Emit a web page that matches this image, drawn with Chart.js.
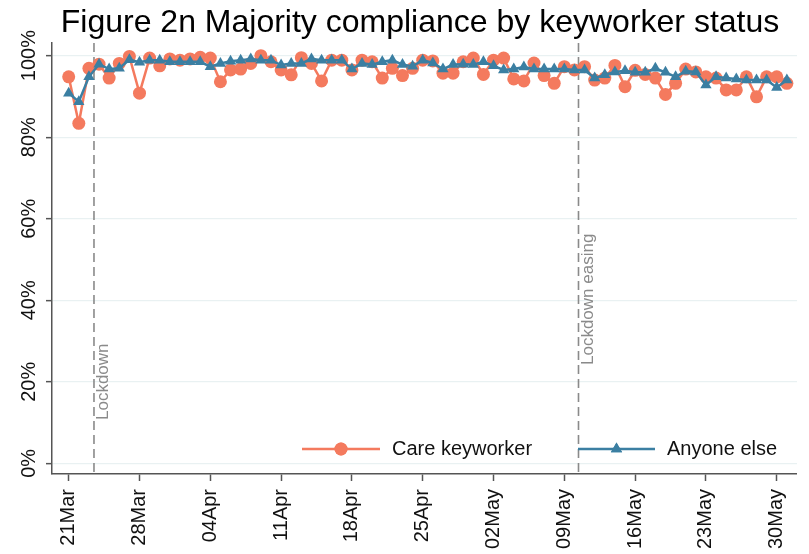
<!DOCTYPE html>
<html>
<head>
<meta charset="utf-8">
<script src="https://cdn.jsdelivr.net/npm/chart.js@4.4.1/dist/chart.umd.min.js"></script>
<style>
  html, body { margin: 0; padding: 0; background: #fff; }
</style>
</head>
<body>
<canvas id="chart" width="809" height="554"></canvas>
<script>
// day index 0 = 21 Mar 2020, last point = 31 May 2020
const days = Array.from({ length: 72 }, (_, i) => i);
const xTickDays = [0, 7, 14, 21, 28, 35, 42, 49, 56, 63, 70];
const xTickLabels = ["21Mar", "28Mar", "04Apr", "11Apr", "18Apr", "25Apr", "02May", "09May", "16May", "23May", "30May"];
const yTicks = [0, 20, 40, 60, 80, 100];

const careKeyworker = [
  94.8, 83.4, 96.9, 97.9, 94.5, 98.1, 99.8, 90.8, 99.4, 97.5,
  99.2, 98.9, 99.2, 99.6, 99.4, 93.6, 96.5, 96.7, 98.1, 100.0,
  98.5, 96.5, 95.3, 99.5, 98.1, 93.8, 98.9, 98.9, 96.5, 98.9,
  98.5, 94.5, 96.9, 95.1, 96.9, 98.9, 98.7, 95.7, 95.7, 98.5,
  99.4, 95.4, 98.9, 99.4, 94.3, 93.8, 98.2, 95.1, 93.2, 97.3,
  96.5, 97.3, 94.0, 94.5, 97.6, 92.4, 96.4, 95.4, 94.5, 90.5,
  93.2, 96.7, 96.0, 94.8, 94.5, 91.6, 91.6, 94.8, 89.9, 94.8,
  94.8, 93.2
];
const anyoneElse = [
  90.8, 88.7, 94.8, 97.9, 96.7, 96.9, 99.0, 98.4, 98.9, 98.9,
  98.5, 98.5, 98.5, 98.5, 97.3, 98.1, 98.6, 98.9, 99.2, 98.9,
  98.9, 97.7, 98.1, 98.1, 99.2, 98.9, 98.9, 98.9, 96.7, 98.1,
  97.8, 98.5, 98.9, 97.8, 97.4, 98.9, 98.2, 96.7, 97.8, 97.9,
  97.8, 98.5, 97.5, 96.5, 96.7, 97.2, 96.7, 96.7, 96.7, 96.7,
  96.5, 96.5, 94.5, 95.3, 96.0, 96.3, 95.9, 95.9, 96.9, 95.9,
  94.8, 96.2, 96.0, 92.8, 94.8, 94.5, 94.3, 94.0, 94.0, 94.0,
  92.2, 94.0
];

const eventDays = [2.5, 50.4];
const eventLabels = ["Lockdown", "Lockdown easing"];

const COLORS = {
  care: "#f47a5e",
  other: "#3b7fa2",
  axis: "#555555",
  grid: "#e9f1f2",
  text: "#111111",
  event: "#8a8a8a"
};
const FONT = "'Liberation Sans', Arial, sans-serif";

const overlay = {
  id: "overlay",
  beforeDatasetsDraw(chart) {
    const { ctx, chartArea, scales } = chart;
    ctx.save();
    // event lines
    eventDays.forEach(d => {
      const x = scales.x.getPixelForValue(d);
      ctx.strokeStyle = COLORS.event;
      ctx.lineWidth = 1.6;
      ctx.setLineDash([9, 5]);
      ctx.beginPath();
      ctx.moveTo(x, chartArea.top);
      ctx.lineTo(x, chartArea.bottom);
      ctx.stroke();
    });
    ctx.setLineDash([]);
    ctx.fillStyle = COLORS.event;
    ctx.font = "17px " + FONT;
    ctx.textAlign = "left";
    ctx.textBaseline = "top";
    const labelBottoms = [420, 365];
    eventDays.forEach((d, i) => {
      const x = scales.x.getPixelForValue(d);
      ctx.save();
      ctx.translate(x + 1, labelBottoms[i]);
      ctx.rotate(-Math.PI / 2);
      ctx.fillText(eventLabels[i], 0, 0);
      ctx.restore();
    });
    ctx.restore();
  },
  afterDraw(chart) {
    const { ctx, scales } = chart;
    ctx.save();
    // title
    ctx.fillStyle = "#000";
    ctx.font = "32px " + FONT;
    ctx.textAlign = "center";
    ctx.textBaseline = "alphabetic";
    ctx.fillText("Figure 2n Majority compliance by keyworker status", 420, 32);

    // y tick labels (rotated)
    ctx.fillStyle = COLORS.text;
    ctx.font = "20px " + FONT;
    ctx.textBaseline = "middle";
    yTicks.forEach(v => {
      const y = scales.y.getPixelForValue(v);
      ctx.save();
      ctx.translate(29, y);
      ctx.rotate(-Math.PI / 2);
      ctx.fillText(v + "%", 0, 0);
      ctx.restore();
    });

    // legend
    const ly = 449;
    const drawKey = (x0, x1, color, style, label) => {
      ctx.strokeStyle = color;
      ctx.fillStyle = color;
      ctx.lineWidth = 2.5;
      ctx.beginPath();
      ctx.moveTo(x0, ly);
      ctx.lineTo(x1, ly);
      ctx.stroke();
      const cx = (x0 + x1) / 2;
      Chart.helpers.drawPoint(ctx, { pointStyle: style, radius: 6.5, borderWidth: 0, rotation: 0 }, cx, ly);
      ctx.fill();
      ctx.fillStyle = COLORS.text;
      ctx.font = "20px " + FONT;
      ctx.textAlign = "left";
      ctx.textBaseline = "middle";
      ctx.fillText(label, x1 + 12, ly);
    };
    drawKey(302, 380, COLORS.care, "circle", "Care keyworker");
    drawKey(578, 655, COLORS.other, "triangle", "Anyone else");
    ctx.restore();
  }
};

new Chart(document.getElementById("chart"), {
  type: "line",
  data: {
    labels: days,
    datasets: [
      {
        label: "Anyone else",
        data: days.map((d, i) => ({ x: d, y: anyoneElse[i] })),
        order: 0,
        borderColor: COLORS.other,
        backgroundColor: COLORS.other,
        borderWidth: 2.5,
        pointStyle: "triangle",
        pointRadius: 6.5,
        pointBorderWidth: 0,
        tension: 0
      },
      {
        label: "Care keyworker",
        data: days.map((d, i) => ({ x: d, y: careKeyworker[i] })),
        order: 1,
        borderColor: COLORS.care,
        backgroundColor: COLORS.care,
        borderWidth: 2.5,
        pointStyle: "circle",
        pointRadius: 6.5,
        pointBorderWidth: 0,
        tension: 0
      }
    ]
  },
  options: {
    responsive: false,
    animation: false,
    devicePixelRatio: 1,
    layout: { padding: { top: 43, right: 9, left: 0, bottom: 0 } },
    plugins: {
      legend: { display: false },
      title: { display: false },
      tooltip: { enabled: false }
    },
    scales: {
      x: {
        type: "linear",
        min: -1.65,
        max: 72,
        afterBuildTicks: axis => { axis.ticks = xTickDays.map(v => ({ value: v })); },
        afterFit: axis => { axis.height = 80; },
        ticks: {
          autoSkip: false,
          minRotation: 90,
          maxRotation: 90,
          padding: 8,
          color: COLORS.text,
          font: { family: FONT, size: 20 },
          callback: v => xTickLabels[xTickDays.indexOf(v)]
        },
        grid: { drawOnChartArea: false, tickLength: 7, tickColor: COLORS.axis, tickWidth: 1.5 },
        border: { color: COLORS.axis, width: 1.5 }
      },
      y: {
        min: -2.6,
        max: 103.1,
        afterBuildTicks: axis => { axis.ticks = yTicks.map(v => ({ value: v })); },
        afterFit: axis => { axis.width = 52; },
        ticks: { display: false },
        grid: { color: COLORS.grid, lineWidth: 1.3, tickLength: 6, tickColor: COLORS.axis, tickWidth: 1.5 },
        border: { color: COLORS.axis, width: 1.5 }
      }
    }
  },
  plugins: [overlay]
});
</script>
</body>
</html>
